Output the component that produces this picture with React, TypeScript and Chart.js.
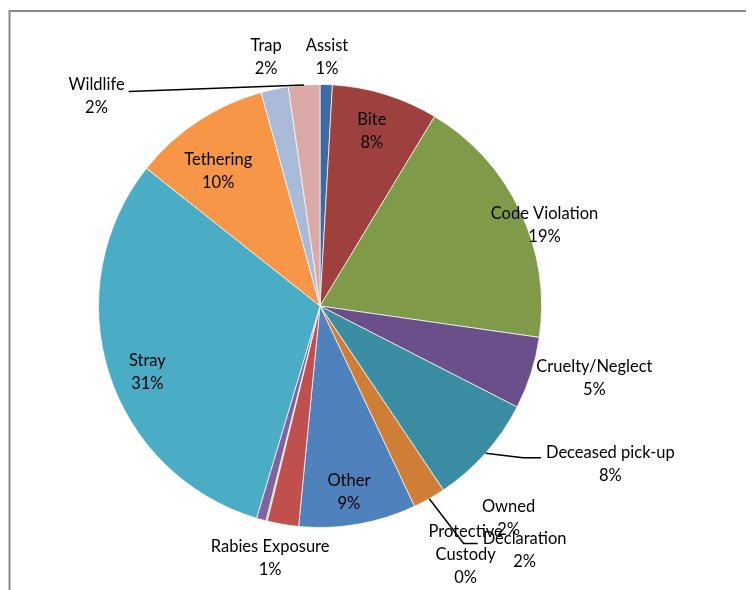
import React, { useEffect, useRef } from "react";
import { Chart, registerables } from "chart.js";

Chart.register(...registerables);

const categories = [
  "Assist",
  "Bite",
  "Code Violation",
  "Cruelty/Neglect",
  "Deceased pick-up",
  "Declaration",
  "Other",
  "Owned",
  "Protective Custody",
  "Rabies Exposure",
  "Stray",
  "Tethering",
  "Trap",
  "Wildlife",
];

const values = [0.9, 7.8, 18.7, 5.3, 8.1, 2.4, 8.6, 2.3, 0.1, 0.7, 31.2, 10.1, 2.0, 2.3];

const sliceColors = [
  "#3d6aa1",
  "#9e413e",
  "#7f9b49",
  "#6a4f8a",
  "#3b8da4",
  "#cf7e38",
  "#4f81bd",
  "#c0504d",
  "#9bbb59",
  "#8064a2",
  "#4bacc6",
  "#f79646",
  "#aabbd9",
  "#dba9a8",
];

// label layout (offset of the text block centre from the pie centre, in units of radius/222)
const labelLines = [
  ["Assist"],
  ["Bite"],
  ["Code Violation"],
  ["Cruelty/Neglect"],
  ["Deceased pick-up"],
  ["Declaration"],
  ["Other"],
  ["Owned"],
  ["Protective", "Custody"],
  ["Rabies Exposure"],
  ["Stray"],
  ["Tethering"],
  ["Trap"],
  ["Wildlife"],
];
const labelOffsetX = [7, 52, 225, 275, 291, 205, 29, 189, 146, -50, -173, -102, -54, -224];
const labelOffsetY = [-249.5, -175.5, -81.5, 72.5, 158.5, 244.5, 186.5, 212.5, 249, 252.5, 66.5, -135.5, -249.5, -210.5];
// leader lines: side of text the line attaches to, elbow length
const leaderSide = ["", "", "", "", "left", "left", "", "", "", "", "", "", "", "right"];
const leaderElbow = [0, 0, 0, 0, 18, 14, 0, 0, 0, 0, 0, 0, 0, 0];

const FONT = '16.5px Lato, "Open Sans", sans-serif';
const LINE_H = 23;

const framePlugin = {
  id: "frame",
  beforeDraw(chart: any) {
    const ctx = chart.ctx;
    ctx.save();
    ctx.fillStyle = "#ffffff";
    ctx.fillRect(0, 0, chart.width, chart.height);
    ctx.strokeStyle = "#898989";
    ctx.lineWidth = 2;
    ctx.strokeRect(1.5, 3, chart.width + 50, chart.height + 50);
    ctx.restore();
  },
};

const labelPlugin = {
  id: "sliceLabels",
  afterDatasetsDraw(chart: any) {
    const ctx = chart.ctx;
    const meta = chart.getDatasetMeta(0);
    const data = chart.data.datasets[0].data as number[];
    const total = data.reduce((a, b) => a + b, 0);
    ctx.save();
    ctx.font = FONT;
    ctx.textAlign = "center";
    ctx.textBaseline = "middle";
    meta.data.forEach((arc: any, i: number) => {
      const r = arc.outerRadius;
      const k = r / 222;
      const cx = arc.x + labelOffsetX[i] * k;
      const cy = arc.y + labelOffsetY[i] * k;
      const lines = [...labelLines[i], Math.round((data[i] / total) * 100) + "%"];
      const n = lines.length;
      const firstY = cy - ((n - 1) / 2) * LINE_H;
      if (leaderSide[i]) {
        const mid = (arc.startAngle + arc.endAngle) / 2;
        const px = arc.x + Math.cos(mid) * r;
        const py = arc.y + Math.sin(mid) * r;
        const w = ctx.measureText(lines[0]).width;
        let ax: number, ay: number, bx: number;
        if (leaderSide[i] === "left") {
          ax = cx - w / 2 - 5;
          ay = firstY + 5;
          bx = ax - leaderElbow[i];
        } else {
          ax = cx + w / 2 + 4;
          ay = firstY + 7;
          bx = ax + leaderElbow[i];
        }
        ctx.strokeStyle = "#000000";
        ctx.lineWidth = 1.5;
        ctx.beginPath();
        ctx.moveTo(px, py);
        ctx.lineTo(bx, ay);
        ctx.lineTo(ax, ay);
        ctx.stroke();
      }
      ctx.fillStyle = "#000000";
      lines.forEach((t, j) => {
        ctx.fillText(t, cx, firstY + j * LINE_H);
      });
    });
    ctx.restore();
  },
};

export default function App() {
  const ref = useRef<HTMLCanvasElement | null>(null);
  useEffect(() => {
    document.documentElement.style.overflow = "hidden";
    document.body.style.overflow = "hidden";
    const canvas = ref.current!;
    const chart = new Chart(canvas, {
      type: "pie",
      data: {
        labels: categories,
        datasets: [
          {
            data: values,
            backgroundColor: sliceColors,
            borderColor: "rgba(255,255,255,0.7)",
            borderWidth: 1,
          },
        ],
      },
      options: {
        responsive: false,
        animation: false,
        layout: { padding: { top: 76, bottom: 62, left: 90, right: 212 } },
        plugins: {
          legend: { display: false },
          tooltip: { enabled: false },
        },
      },
      plugins: [framePlugin, labelPlugin],
    });
    return () => chart.destroy();
  }, []);
  return (
    <div style={{ width: 746, height: 582, overflow: "hidden" }}>
      <canvas ref={ref} width={746} height={582} style={{ display: "block" }} />
    </div>
  );
}
